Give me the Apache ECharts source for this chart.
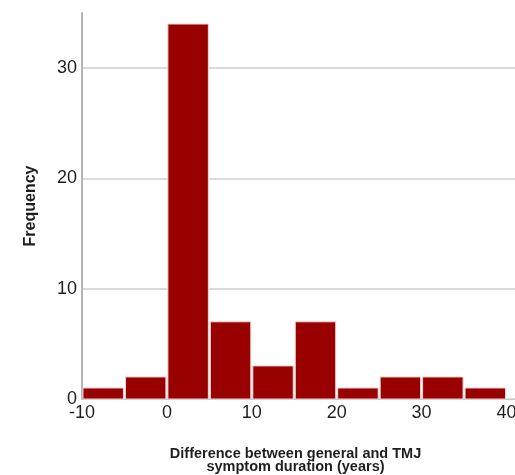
<!DOCTYPE html>
<html>
<head>
<meta charset="utf-8">
<script src="https://cdn.jsdelivr.net/npm/echarts@6/dist/echarts.min.js"></script>
<style>
  html, body { margin: 0; padding: 0; background: #fff; }
  #chart { width: 515px; height: 475px; }
</style>
</head>
<body>
<div id="chart"></div>
<script>
// Histogram bins (years), width 5
const binStarts = [-10, -5, 0, 5, 10, 15, 20, 25, 30, 35];
const binWidth = 5;
const frequencies = [1, 2, 34, 7, 3, 7, 1, 2, 2, 1];
const xTicks = [-10, 0, 10, 20, 30, 40];
const yTicks = [0, 10, 20, 30];

const bins = binStarts.map((s, i) => [s, s + binWidth, frequencies[i]]);

const chart = echarts.init(document.getElementById('chart'), null, { renderer: 'canvas' });

const labelFont = { fontFamily: 'Liberation Sans, Arial, sans-serif', color: '#1e1e1e' };

chart.setOption({
  animation: false,
  grid: { left: 82, right: 0, top: 13, bottom: 76, containLabel: false, outerBoundsMode: 'none' },
  xAxis: {
    type: 'value',
    min: -10,
    max: 41,
    interval: 10,
    name: 'Difference between general and TMJ\nsymptom duration (years)',
    nameLocation: 'middle',
    nameGap: 48,
    nameTextStyle: {
      fontFamily: 'Liberation Sans, Arial, sans-serif',
      fontWeight: 'bold', fontSize: 14.5, lineHeight: 13, color: '#1e1e1e',
      padding: [0, 6, 0, 0]
    },
    axisLine: { show: true, lineStyle: { color: '#c8c8c8', width: 1 } },
    axisTick: { show: false },
    splitLine: { show: false },
    axisLabel: {
      ...labelFont, fontSize: 18, margin: 5, showMaxLabel: false,
      formatter: v => xTicks.includes(v) ? String(v) : ''
    }
  },
  yAxis: {
    type: 'value',
    min: 0,
    max: 35,
    interval: 10,
    name: 'Frequency',
    nameLocation: 'middle',
    nameGap: 43,
    nameTextStyle: {
      fontFamily: 'Liberation Sans, Arial, sans-serif',
      fontWeight: 'bold', fontSize: 16, color: '#1e1e1e'
    },
    axisLine: { show: true, onZero: false, lineStyle: { color: '#b4b4b4', width: 2 } },
    axisTick: { show: false },
    splitLine: { show: true, showMaxLine: false, lineStyle: { color: '#dadada', width: 2 } },
    axisLabel: {
      ...labelFont, fontSize: 18, margin: 5, showMaxLabel: false,
      formatter: v => yTicks.includes(v) ? String(v) : ''
    }
  },
  series: [{
    type: 'custom',
    data: bins,
    encode: { x: [0, 1], y: 2 },
    renderItem: (params, api) => {
      const p0 = api.coord([api.value(0), 0]);
      const p1 = api.coord([api.value(1), api.value(2)]);
      return {
        type: 'rect',
        shape: { x: p0[0] + 1, y: p1[1], width: p1[0] - p0[0] - 2, height: p0[1] - p1[1] },
        style: { fill: '#990000', stroke: '#f2d4d4', lineWidth: 1 }
      };
    }
  }]
});
</script>
</body>
</html>
